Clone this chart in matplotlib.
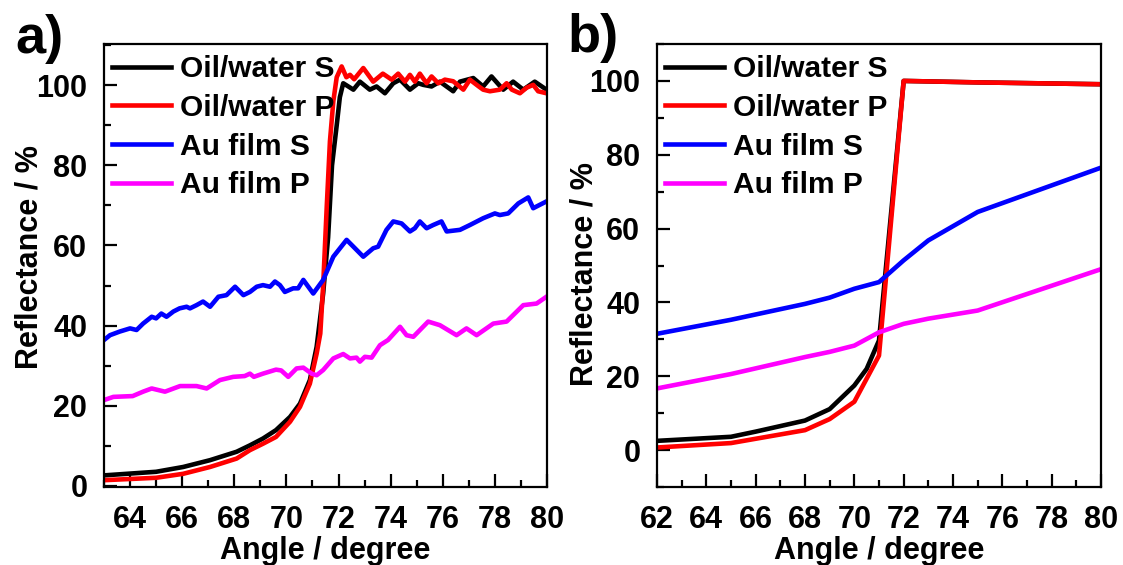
import matplotlib
matplotlib.use("Agg")
import matplotlib.pyplot as plt
from matplotlib.ticker import MultipleLocator

plt.rcParams['font.family'] = ['Liberation Sans', 'DejaVu Sans']
plt.rcParams['font.weight'] = 'bold'

# ---------------- Panel a data ----------------
a_ows_x = [63.0, 65.0, 66.04, 67.07, 68.09, 68.6, 69.1, 69.6, 70.14, 70.52, 70.9, 71.16, 71.41,
           71.6, 71.75, 71.93, 72.05, 72.18, 72.57, 72.82, 73.2, 73.46, 73.78, 74.1, 74.36,
           74.74, 75.06, 75.25, 75.57, 75.89, 76.4, 76.66, 77.17, 77.55, 77.87, 78.32, 78.7,
           79.09, 79.53, 79.98]
a_ows_y = [2.6, 3.5, 4.7, 6.4, 8.5, 10.1, 11.8, 13.9, 17.2, 20.5, 26.4, 34.7, 48.0,
           62.0, 80.0, 90.0, 97.0, 100.5, 98.9, 100.9, 98.9, 99.7, 98.0, 100.5, 101.4,
           98.9, 100.5, 100.1, 99.7, 100.9, 98.5, 100.9, 101.8, 99.7, 102.2, 98.9, 100.9,
           98.9, 100.9, 98.9]

a_owp_x = [63.0, 65.0, 66.04, 67.07, 68.09, 68.6, 69.1, 69.6, 70.14, 70.52, 70.9, 71.16, 71.3,
           71.41, 71.55, 71.67, 71.8, 71.93, 72.12, 72.3, 72.44, 72.6, 72.95, 73.33, 73.7,
           74.04, 74.29, 74.55, 74.74, 74.93, 75.12, 75.38, 75.57, 75.83, 76.08, 76.4, 76.79,
           77.04, 77.36, 77.55, 77.81, 78.19, 78.45, 78.65, 78.96, 79.22, 79.47, 79.66, 79.98]
a_owp_y = [1.4, 2.0, 3.0, 4.7, 6.8, 8.9, 10.5, 12.2, 16.0, 19.7, 25.5, 33.0, 38.0,
           50.0, 70.0, 86.0, 96.0, 102.0, 104.7, 102.0, 102.6, 101.5, 104.3, 100.9, 102.9,
           101.4, 102.9, 100.9, 102.6, 100.9, 102.9, 100.5, 102.2, 100.5, 101.4, 101.0, 98.9,
           101.4, 99.8, 98.9, 98.5, 98.9, 100.5, 98.9, 98.0, 99.4, 100.1, 98.5, 98.0]

a_aus_x = [63.0, 63.23, 63.6, 64.0, 64.25, 64.5, 64.83, 65.0, 65.2, 65.4, 65.66, 65.9, 66.17,
           66.3, 66.55, 66.8, 67.07, 67.39, 67.7, 68.03, 68.35, 68.6, 68.86, 69.1, 69.37,
           69.56, 69.75, 69.94, 70.26, 70.45, 70.65, 70.84, 71.03, 71.41, 71.8, 72.31, 72.57,
           72.95, 73.33, 73.52, 73.84, 74.1, 74.42, 74.74, 74.93, 75.12, 75.38, 75.63, 75.95,
           76.15, 76.66, 77.04, 77.55, 78.0, 78.19, 78.51, 78.9, 79.28, 79.47, 79.98]
a_aus_y = [36.4, 37.6, 38.5, 39.3, 38.9, 40.5, 42.2, 41.8, 43.0, 42.2, 43.5, 44.3, 44.7,
           44.3, 45.1, 46.0, 44.7, 47.2, 47.6, 49.7, 47.6, 48.4, 49.7, 50.1, 49.7,
           51.0, 50.1, 48.4, 49.3, 49.3, 51.4, 49.7, 48.0, 51.4, 57.2, 61.4, 59.7,
           57.2, 59.3, 59.7, 63.9, 66.0, 65.5, 63.5, 64.3, 66.0, 64.3, 65.1, 66.0,
           63.5, 63.9, 65.1, 66.8, 68.0, 67.6, 68.0, 70.5, 72.0, 69.3, 71.0]

a_aup_x = [63.0, 63.36, 64.1, 64.5, 64.83, 65.34, 65.92, 66.55, 66.94, 67.45, 67.96, 68.4,
           68.6, 68.75, 69.1, 69.6, 69.8, 70.07, 70.39, 70.65, 70.97, 71.16, 71.41, 71.8,
           72.18, 72.44, 72.69, 72.82, 73.01, 73.27, 73.59, 73.9, 74.36, 74.61, 74.87, 75.44,
           75.89, 76.53, 76.91, 77.3, 77.94, 78.45, 79.09, 79.6, 79.98]
a_aup_y = [21.4, 22.2, 22.4, 23.5, 24.3, 23.5, 24.9, 24.9, 24.3, 26.4, 27.2, 27.4,
           28.0, 27.2, 28.0, 29.0, 28.8, 27.2, 29.3, 29.5, 28.0, 27.6, 28.9, 31.8,
           32.9, 31.8, 32.0, 31.0, 32.2, 32.0, 35.1, 36.4, 39.7, 37.6, 37.2, 41.0,
           40.1, 37.6, 39.3, 37.6, 40.5, 41.0, 45.1, 45.5, 47.2]

# ---------------- Panel b data ----------------
b_x_ow_s = [62, 65, 66, 67, 68, 69, 70, 70.5, 71, 72, 75, 80]
b_ows_y = [2.5, 3.6, 5.0, 6.5, 8.0, 11.1, 17.5, 22.0, 29.7, 100.0, 99.6, 99.1]
b_x_ow_p = [62, 65, 68, 69, 70, 71, 72, 75, 80]
b_owp_y = [0.7, 1.9, 5.4, 8.4, 13.1, 25.6, 100.0, 99.6, 99.1]
b_x_au = [62, 65, 68, 69, 70, 71, 72, 73, 75, 80]
b_aus_y = [31.5, 35.3, 39.6, 41.3, 43.7, 45.5, 51.4, 56.8, 64.5, 76.5]
b_aup_y = [16.7, 20.6, 25.2, 26.6, 28.3, 31.9, 34.2, 35.6, 37.8, 49.0]

labels = ['Oil/water S', 'Oil/water P', 'Au film S', 'Au film P']
colors = ['#000000', '#ff0000', '#0000ff', '#ff00ff']

x_label = 'Angle / degree'
y_label = 'Reflectance / %'

fig = plt.figure(figsize=(11.23, 5.65), dpi=100)
W, H = 1123, 565
ax_a = fig.add_axes([104 / W, 1 - 487 / H, 443 / W, 443 / H])
ax_b = fig.add_axes([657 / W, 1 - 487 / H, 444 / W, 443 / H])

FS = 22
LW = 3.3

def style(ax, xlim, ylim):
    ax.set_xlim(*xlim)
    ax.set_ylim(*ylim)
    ax.xaxis.set_major_locator(MultipleLocator(2))
    ax.xaxis.set_minor_locator(MultipleLocator(1))
    ax.yaxis.set_major_locator(MultipleLocator(20))
    ax.yaxis.set_minor_locator(MultipleLocator(10))
    ax.tick_params(which='both', direction='in', width=1.6, top=False, right=False,
                   labelsize=FS)
    ax.tick_params(which='major', length=9.5)
    ax.tick_params(which='minor', length=5)
    ax.tick_params(axis='x', which='major', pad=13)
    ax.tick_params(axis='y', which='major', pad=12)
    for s in ax.spines.values():
        s.set_linewidth(1.6)
    for lab in ax.get_xticklabels() + ax.get_yticklabels():
        lab.set_fontweight('bold')
    ax.set_xlabel(x_label, fontsize=FS, fontweight='bold', labelpad=1)
    ax.set_ylabel(y_label, fontsize=FS, fontweight='bold')

# Panel a
ax_a.plot(a_ows_x, a_ows_y, color=colors[0], lw=LW, label=labels[0])
ax_a.plot(a_owp_x, a_owp_y, color=colors[1], lw=LW, label=labels[1])
ax_a.plot(a_aus_x, a_aus_y, color=colors[2], lw=LW, label=labels[2])
ax_a.plot(a_aup_x, a_aup_y, color=colors[3], lw=LW, label=labels[3])
style(ax_a, (63, 80), (-0.3, 110.3))
ax_a.yaxis.set_label_coords(-0.135, 0.52)

# Panel b
ax_b.plot(b_x_ow_s, b_ows_y, color=colors[0], lw=LW, label=labels[0])
ax_b.plot(b_x_ow_p, b_owp_y, color=colors[1], lw=LW, label=labels[1])
ax_b.plot(b_x_au, b_aus_y, color=colors[2], lw=LW, label=labels[2])
ax_b.plot(b_x_au, b_aup_y, color=colors[3], lw=LW, label=labels[3])
style(ax_b, (62, 80), (-10, 110))
ax_b.yaxis.set_label_coords(-0.13, 0.48)

for ax in (ax_a, ax_b):
    ax.legend(loc='upper left', bbox_to_anchor=(0.017, 0.975), frameon=False,
              prop={'family': 'Liberation Sans', 'weight': 'bold', 'size': 21.5},
              handlelength=2.0, handletextpad=0.3, labelspacing=0.36,
              borderpad=0.0, borderaxespad=0.0)

fig.text(15 / W, 1 - 53 / H, 'a)', fontsize=39, fontweight='bold', va='baseline', ha='left')
fig.text(567 / W, 1 - 52 / H, 'b)', fontsize=39, fontweight='bold', va='baseline', ha='left')

fig.savefig('out.png', dpi=100)
